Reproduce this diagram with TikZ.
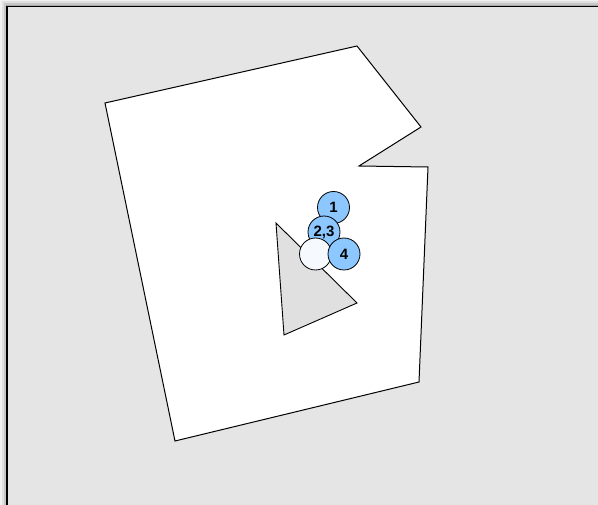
\documentclass[tikz,border=0pt]{standalone}
\usepackage{fontspec}
\setmainfont{Liberation Sans}
\usepackage{tikz}
\usetikzlibrary{positioning}
\definecolor{fundo}{RGB}{229,229,229}
\definecolor{azulPonto}{RGB}{140,200,255}
\definecolor{brancoPonto}{RGB}{246,250,255}
\definecolor{obstaculoCor}{RGB}{224,224,224}
\tikzset{
    quadro/.style={draw=black, line width=1.3pt, fill=fundo},
    regiao/.style={draw=black, line width=1pt, fill=white, line join=miter},
    obstaculo/.style={draw=black, line width=0.9pt, fill=obstaculoCor},
    ponto/.style={
        circle,
        draw=black,
        line width=0.8pt,
        minimum size=32pt,
        inner sep=0pt,
        font=\bfseries\fontsize{15}{15}\selectfont
    },
    pontoAzul/.style={ponto, fill=azulPonto},
    pontoBranco/.style={ponto, fill=brancoPonto}
}

\begin{document}
\begin{tikzpicture}[x=1pt, y=-1pt]
        \useasboundingbox (0,0) rectangle (598,505);
        \clip (0,0) rectangle (598,505);

        % sombra e moldura
        \fill[black!5] (0,0) rectangle (620,530);
        \fill[black!12] (2,1.5) rectangle (620,530);
        \fill[black!22] (4,3.5) rectangle (620,530);
        \fill[black!35] (5.5,5) rectangle (620,530);
        \draw[quadro] (7,6.5) rectangle (620,530);

        % regiao livre
        \draw[regiao] (105,103) -- (357,46) -- (421,127) -- (359,166)
            -- (428,167) -- (419,382) -- (175,441) -- cycle;

        % obstaculo
        \draw[obstaculo] (276,223) -- (357,303) -- (284,335) -- cycle;

        % pontos
        \node[pontoAzul] (p1) at (333.5,207.5) {1};
        \node[pontoAzul] (p23) at (324,232) {2,3};
        \node[pontoBranco] (p0) at (315.5,254) {};
        \node[pontoAzul] (p4) at (344,254) {4};
    \end{tikzpicture}
\end{document}
